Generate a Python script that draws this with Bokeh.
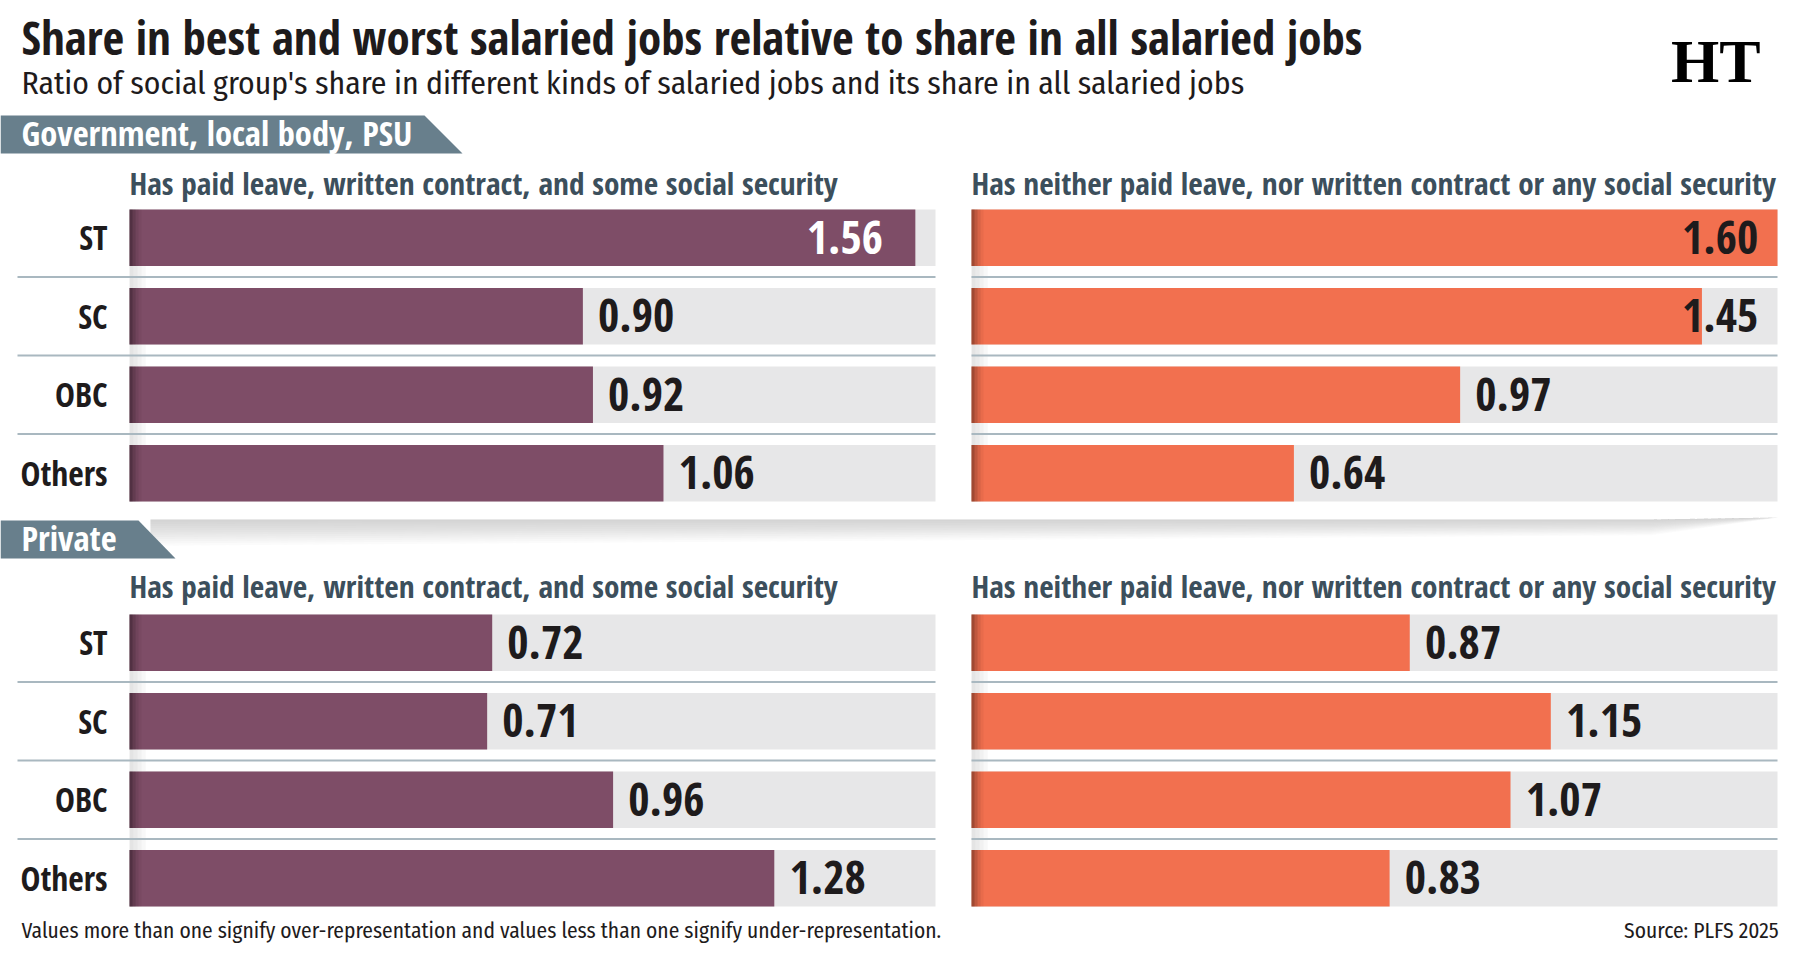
from bokeh.plotting import figure
from bokeh.layouts import column, row
from bokeh.models import Range1d, Label, ColumnDataSource
from bokeh.core.properties import value
from bokeh.embed import file_html
from bokeh.resources import INLINE

# ---------------- data ----------------
TITLE = "Share in best and worst salaried jobs relative to share in all salaried jobs"
SUBTITLE = "Ratio of social group's share in different kinds of salaried jobs and its share in all salaried jobs"
FOOTNOTE = "Values more than one signify over-representation and values less than one signify under-representation."
SOURCE = "Source: PLFS 2025"
LOGO = "HT"
sections = ["Government, local body, PSU", "Private"]
col_titles = ["Has paid leave, written contract, and some social security",
              "Has neither paid leave, nor written contract or any social security"]
groups = ["ST", "SC", "OBC", "Others"]
gov_best = [1.56, 0.90, 0.92, 1.06]
gov_worst = [1.60, 1.45, 0.97, 0.64]
pvt_best = [0.72, 0.71, 0.96, 1.28]
pvt_worst = [0.87, 1.15, 1.07, 0.83]
XMAX = 1.6

# ---------------- style ----------------
W = 1802
PURPLE = "#7E4D67"
ORANGE = "#F2704F"
TRACK = "#E7E7E8"
BANNER = "#687F8C"
SLATE = "#3C4F5C"
SEP = "#A9B8C0"
INK = "#1E1B1C"
BOLD = "Open Sans Condensed"
LIGHT = "Fira Sans Condensed"
SHIFT = 0.37         # baseline correction (em) for the renderer
PX = 503.75          # pixels per unit of ratio
ROW_PX = 78.5        # pixels per row
LEFT0 = 129          # pixel where left panel bars start
RIGHT0 = 971         # pixel where right panel bars start
LW = 953             # width of left panel figure
ROWS_H = ROW_PX * len(groups)
BAR_H = 0.722
VAL_SIZE = 46
ROW_SIZE = 33.5
SUB_SIZE = 31.3
BAN_SIZE = 34.5


def canvas(w, h):
    p = figure(width=w, height=h, x_range=Range1d(0, w), y_range=Range1d(h, 0),
               output_backend="svg", toolbar_location=None, min_border=0,
               x_axis_location=None, y_axis_location=None)
    p.grid.visible = False
    p.outline_line_color = None
    p.background_fill_color = "white"
    p.border_fill_color = "white"
    return p


def label(p, x, base, text, size, font=BOLD, style="bold", color=INK, align="left"):
    p.add_layout(Label(x=x, y=base - SHIFT * size, text=text, text_font=font,
                       text_font_size=f"{size}px", text_font_style=style,
                       text_color=color, text_align=align, text_baseline="alphabetic"))


def banner(p, top, right_top, right_bot, h, text):
    p.patch(x=[0, right_top, right_bot, 0], y=[top, top, top + h, top + h],
            fill_color=BANNER, line_color=None)
    label(p, 21, top + h / 2 + 11, text, BAN_SIZE, color="white")


def panel(vals, color, origin_px, width, show_labels, inside_white, subtitle, top_px, sub_base):
    n = len(groups)
    rows = list(range(n))
    x0 = -origin_px / PX
    top = -0.5 - top_px / ROW_PX
    p = figure(width=width, height=int(round(ROWS_H + top_px)),
               x_range=Range1d(x0, x0 + width / PX), y_range=Range1d(n - 0.5, top),
               output_backend="svg", toolbar_location=None, min_border=0,
               x_axis_location=None, y_axis_location=None)
    p.grid.visible = False
    p.outline_line_color = None
    p.background_fill_color = "white"
    p.border_fill_color = "white"
    # column title
    p.text(x=[0], y=[top + (sub_base - SHIFT * SUB_SIZE) / ROW_PX], text=[subtitle],
           text_font=value(BOLD), text_font_style="bold", text_font_size=f"{SUB_SIZE}px",
           text_color=SLATE, text_align="left", text_baseline="alphabetic")
    # soft shadow in the gaps at the left edge
    gaps = [r + 0.5 for r in rows[:-1]]
    for k in range(4):
        p.hbar(y=gaps, left=0, right=0.008 * (k + 1), height=1 - BAR_H,
               fill_color="#8C8C8C", fill_alpha=0.06, line_color=None)
    # separators between rows
    sep_x0 = (17 - LEFT0) / PX if show_labels else 0
    p.segment(x0=[sep_x0] * len(gaps), x1=[XMAX] * len(gaps), y0=gaps, y1=gaps,
              line_color=SEP, line_width=2)
    # track and bars
    p.hbar(y=rows, left=0, right=XMAX, height=BAR_H, fill_color=TRACK, line_color=None)
    p.hbar(y=rows, left=0, right=vals, height=BAR_H, fill_color=color, line_color=None)
    # left-edge soft shading of bars
    for k, a in enumerate([0.16, 0.11, 0.07, 0.04]):
        p.hbar(y=rows, left=0, right=(k + 1) * 0.006, height=BAR_H,
               fill_color="black", fill_alpha=a, line_color=None)
    # value labels
    xs, al, cols = [], [], []
    for v in vals:
        if v + 0.03 + 0.15 <= XMAX:
            xs.append(v + 0.03); al.append("left"); cols.append(INK)
        elif inside_white:
            xs.append(v - 0.064); al.append("right"); cols.append("white")
        else:
            xs.append(XMAX - 0.038); al.append("right"); cols.append(INK)
    off = (0.357 - SHIFT) * VAL_SIZE / ROW_PX
    src = ColumnDataSource(dict(x=xs, y=[r + off for r in rows],
                                t=[f"{v:.2f}" for v in vals], a=al, c=cols))
    p.text(x="x", y="y", text="t", text_align="a", text_color="c", source=src,
           text_font=value(BOLD), text_font_style="bold", text_font_size=f"{VAL_SIZE}px",
           text_baseline="alphabetic")
    if show_labels:
        off = (0.357 - SHIFT) * ROW_SIZE / ROW_PX
        p.text(x=[(107 - LEFT0) / PX] * n, y=[r + off for r in rows],
               text=groups, text_align="right", text_baseline="alphabetic",
               text_font=value(BOLD), text_font_style="bold",
               text_font_size=f"{ROW_SIZE}px", text_color=INK)
    return p


def section(vals_best, vals_worst, top_px, sub_base):
    return row(panel(vals_best, PURPLE, LEFT0, LW, True, True, col_titles[0], top_px, sub_base),
               panel(vals_worst, ORANGE, RIGHT0 - LW, W - LW, False, False, col_titles[1],
                     top_px, sub_base))


# ---------------- header ----------------
HEAD_H = 157
head = canvas(W, HEAD_H)
label(head, 21, 54, TITLE, 47)
label(head, 21, 94, SUBTITLE, 31.7, font=LIGHT, style="normal")
label(head, 1760, 83, LOGO, 62, font="Liberation Serif", color="black", align="right")
banner(head, 115, 424, 462, 38, sections[0])

gov_row = section(gov_best, gov_worst, 41, 37)

# ---------------- private header ----------------
MID_H = 49
mid = canvas(W, MID_H)
for i in range(12):
    h = 2 + i * 2.2
    mid.patch(x=[150, 1650, 1778, 1650, 150], y=[7, 7, 5, 7 + h * 0.6, 7 + h],
              fill_color="#9A9A9A", fill_alpha=0.035, line_color=None)
banner(mid, 8, 138, 175, 38, sections[1])

pvt_row = section(pvt_best, pvt_worst, 42, 36)

# ---------------- footer ----------------
FOOT_H = 959 - HEAD_H - int(round(ROWS_H + 41)) - MID_H - int(round(ROWS_H + 42))
foot = canvas(W, FOOT_H)
label(foot, 21, 21, FOOTNOTE, 21.5, font=LIGHT, style="normal")
label(foot, 1778, 21, SOURCE, 21.5, font=LIGHT, style="normal", align="right")

page = column(head, gov_row, mid, pvt_row, foot, spacing=0)
open("out.html", "w").write(file_html(page, INLINE))
